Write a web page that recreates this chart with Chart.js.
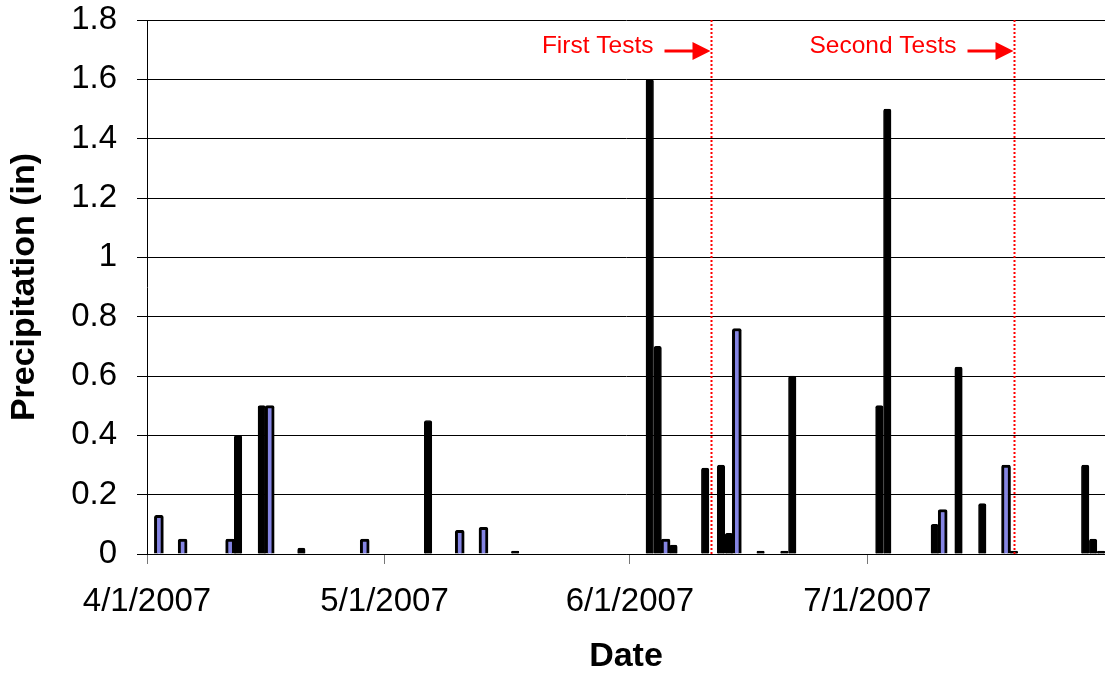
<!DOCTYPE html>
<html>
<head>
<meta charset="utf-8">
<script src="https://cdn.jsdelivr.net/npm/chart.js@4.4.1/dist/chart.umd.min.js"></script>
<style>
  html, body { margin: 0; padding: 0; background: #fff; }
  canvas { display: block; }
</style>
</head>
<body>
<canvas id="precipChart" width="1105" height="679"></canvas>
<script>
// daily precipitation, 2007 (M/D)
const blackDates = ['4/12', '4/15', '4/20', '5/6', '5/17', '6/3', '6/4', '6/6', '6/10', '6/12', '6/13',
                    '6/17', '6/20', '6/21', '7/2', '7/3', '7/9', '7/12', '7/15', '7/19', '7/28', '7/29', '7/30'];
const blackValues = [0.40, 0.50, 0.02, 0.45, 0.01, 1.60, 0.70, 0.03, 0.29, 0.30, 0.07,
                     0.01, 0.01, 0.60, 0.50, 1.50, 0.10, 0.63, 0.17, 0.01, 0.30, 0.05, 0.01];

const blueDates = ['4/2', '4/5', '4/11', '4/16', '4/28', '5/10', '5/13', '6/5', '6/14', '7/10', '7/18'];
const blueValues = [0.13, 0.05, 0.05, 0.50, 0.05, 0.08, 0.09, 0.05, 0.76, 0.15, 0.30];

const tickDates = ['4/1', '5/1', '6/1', '7/1'];
const tickLabels = ['4/1/2007', '5/1/2007', '6/1/2007', '7/1/2007'];

const testLabels = ['First Tests', 'Second Tests'];
const testDates = ['6/11', '7/19'];
const testHours = [5, 12];

// days since 4/1 for each month start
const monthStart = { 4: 0, 5: 30, 6: 61, 7: 91, 8: 122 };
function dayOf(s) {
    const [m, d] = s.split('/').map(Number);
    return monthStart[m] + d - 1;
}

const toPoints = (dates, values) => dates.map((d, i) => ({ x: dayOf(d) + 0.5, y: values[i] }));

const FONT = "'Liberation Sans', Arial, sans-serif";

const testMarkers = {
    id: 'testMarkers',
    afterDatasetsDraw(chart) {
        const { ctx, chartArea, scales } = chart;
        ctx.save();
        testDates.forEach((d, i) => {
            const x = Math.round(scales.x.getPixelForValue(dayOf(d) + testHours[i] / 24)) + 0.5;
            // dotted red line
            ctx.strokeStyle = '#ff0000';
            ctx.lineWidth = 2;
            ctx.setLineDash([2, 2]);
            ctx.beginPath();
            ctx.moveTo(x, chartArea.top);
            ctx.lineTo(x, chartArea.bottom);
            ctx.stroke();
            ctx.setLineDash([]);

            // label + arrow
            const y = 51;
            ctx.fillStyle = '#ff0000';
            ctx.font = '24.5px ' + FONT;
            ctx.textAlign = 'right';
            ctx.textBaseline = 'middle';
            ctx.fillText(testLabels[i], x - 58, y - 5);

            ctx.lineWidth = 3;
            ctx.beginPath();
            ctx.moveTo(x - 47, y);
            ctx.lineTo(x - 18, y);
            ctx.stroke();
            ctx.beginPath();
            ctx.moveTo(x - 19, y - 9);
            ctx.lineTo(x - 1, y);
            ctx.lineTo(x - 19, y + 9);
            ctx.closePath();
            ctx.fill();
        });
        ctx.restore();
    }
};

new Chart(document.getElementById('precipChart').getContext('2d'), {
    type: 'bar',
    data: {
        datasets: [
            {
                label: 'Precipitation',
                data: toPoints(blackDates, blackValues),
                backgroundColor: '#000000',
                borderColor: '#000000',
                borderWidth: 1,
                borderRadius: 2,
                barThickness: 7.5,
                grouped: false
            },
            {
                label: 'Precipitation (blue)',
                data: toPoints(blueDates, blueValues),
                backgroundColor: '#8585e3',
                borderColor: '#000000',
                borderWidth: 3,
                borderRadius: 2,
                barThickness: 9,
                grouped: false
            }
        ]
    },
    options: {
        responsive: false,
        animation: false,
        layout: { padding: { left: 0, top: 20, right: 0, bottom: 0 } },
        plugins: {
            legend: { display: false },
            tooltip: { enabled: false }
        },
        scales: {
            x: {
                type: 'linear',
                min: 0,
                max: 121,
                offset: false,
                afterBuildTicks: scale => {
                    scale.ticks = tickDates.map(d => ({ value: dayOf(d) }));
                },
                afterFit: scale => {
                    scale.height = 125;
                    scale.paddingLeft = 0;
                    scale.paddingRight = 0;
                },
                ticks: {
                    autoSkip: false,
                    maxRotation: 0,
                    padding: 18,
                    color: '#000',
                    font: { family: FONT, size: 33 },
                    callback: (value) => tickLabels[tickDates.findIndex(d => dayOf(d) === value)] ?? ''
                },
                grid: {
                    offset: false,
                    drawOnChartArea: false,
                    drawTicks: true,
                    tickLength: 10,
                    color: '#777'
                },
                border: { display: true, color: '#000', width: 1 },
                title: {
                    display: true,
                    text: 'Date',
                    color: '#000',
                    padding: { top: 4, bottom: 2 },
                    font: { family: FONT, size: 34, weight: 'bold' }
                }
            },
            y: {
                min: 0,
                max: 1.8,
                afterFit: scale => {
                    scale.width = 147;
                    scale.paddingTop = 0;
                    scale.paddingBottom = 0;
                },
                ticks: {
                    stepSize: 0.2,
                    padding: 20,
                    color: '#000',
                    font: { family: FONT, size: 33 },
                    callback: value => String(Number(value.toFixed(1)))
                },
                grid: {
                    color: '#000',
                    lineWidth: 1,
                    drawTicks: true,
                    tickLength: 10
                },
                border: { display: true, color: '#000', width: 1 },
                title: {
                    display: true,
                    text: 'Precipitation (in)',
                    color: '#000',
                    font: { family: FONT, size: 34, weight: 'bold' }
                }
            }
        }
    },
    plugins: [testMarkers]
});
</script>
</body>
</html>
